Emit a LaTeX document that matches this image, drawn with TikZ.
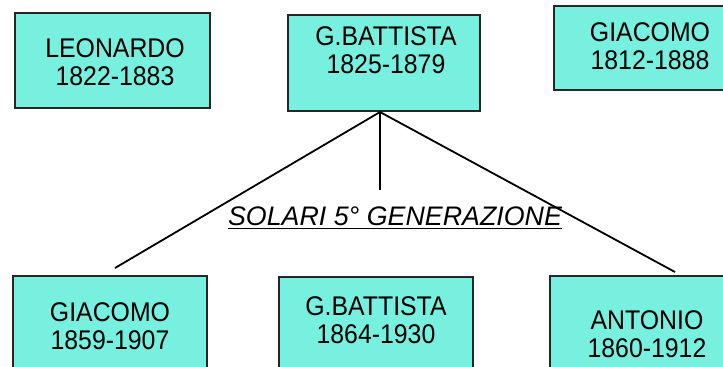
\documentclass[tikz,border=0pt]{standalone}
\usepackage{fontspec}
\setmainfont{Liberation Sans}[FakeStretch=0.92]
\newfontfamily\didascalia{Liberation Sans}
\definecolor{acqua}{RGB}{120,240,224}
\tikzset{
  scheda/.style={draw=black!85, line width=1pt, fill=acqua, inner sep=0pt,
    minimum width=97pt, minimum height=52pt},
  nome/.style={align=center, inner sep=0pt, font=\fontsize{13.5}{14}\selectfont},
  ramo/.style={line width=0.9pt}
}

\begin{document}
\begin{tikzpicture}[x=0.5pt,y=-0.5pt]
\useasboundingbox (0,0) rectangle (723,366);
% generazione precedente
\node[scheda, minimum width=97.5pt, minimum height=47.5pt] (leonardo) at (112.5,60.5) {};
\node[scheda, minimum width=96pt, minimum height=48pt] (gbPadre) at (384,63) {};
\node[scheda, minimum width=96pt, minimum height=42pt] (giacomoZio) at (650,48) {};
\node[nome] (leonardoNome) at (115,62) {LEONARDO\\1822-1883};
\node[nome] (gbPadreNome) at (386,50) {G.BATTISTA\\1825-1879};
\node[nome] (giacomoZioNome) at (650,46) {GIACOMO\\1812-1888};
% figli
\node[scheda] (giacomoFiglio) at (110,328) {};
\node[scheda] (gbFiglio) at (376,329) {};
\node[scheda] (antonio) at (647,328) {};
\node[nome] (giacomoFiglioNome) at (110,326) {GIACOMO\\1859-1907};
\node[nome] (gbFiglioNome) at (376,320.5) {G.BATTISTA\\1864-1930};
\node[nome] (antonioNome) at (647,334) {ANTONIO\\1860-1912};
% rami
\coordinate (vertice) at ([xshift=-2pt]gbPadre.south);
\coordinate (fineSx) at ([xshift=2.5pt,yshift=3.5pt]giacomoFiglio.north);
\coordinate (fineCentro) at (380,190);
\coordinate (fineDx) at ([xshift=14pt,yshift=1.5pt]antonio.north);
\draw[ramo] (vertice) -- (fineSx);
\draw[ramo] (vertice) -- (fineCentro);
\draw[ramo] (vertice) -- (fineDx);
\node[inner sep=0pt, font=\didascalia\itshape\fontsize{13.4}{15}\selectfont] (generazione) at (395,218)
  {\underline{SOLARI 5° GENERAZIONE}};
\end{tikzpicture}
\end{document}
